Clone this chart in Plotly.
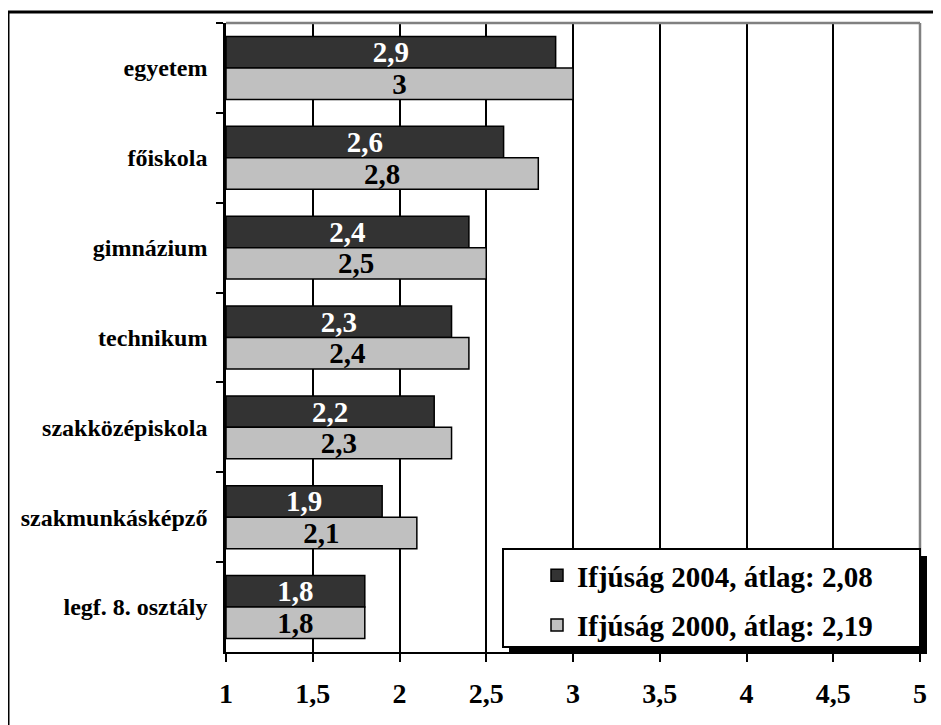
import plotly.graph_objects as go

categories = ["egyetem", "főiskola", "gimnázium", "technikum",
              "szakközépiskola", "szakmunkásképző", "legf. 8. osztály"]
values_2004 = [2.9, 2.6, 2.4, 2.3, 2.2, 1.9, 1.8]
values_2000 = [3.0, 2.8, 2.5, 2.4, 2.3, 2.1, 1.8]
name_2004 = "Ifjúság 2004, átlag: 2,08"
name_2000 = "Ifjúság 2000, átlag: 2,19"
tick_vals = [1, 1.5, 2, 2.5, 3, 3.5, 4, 4.5, 5]
tick_text = ["1", "1,5", "2", "2,5", "3", "3,5", "4", "4,5", "5"]
axis_start = 1

# page body has an 8px margin; figure sized to fit the window
OFF = 8
W, H = 933, 717
L, T = 226 - OFF, 23 - OFF
R = W - (920 - OFF)
B = H - (652 - OFF)
PW, PH = W - L - R, H - T - B


def px(x):  # screenshot x -> paper
    return (x - OFF - L) / PW


def py(y):  # screenshot y -> paper
    return (H - B - (y - OFF)) / PH


def fmt(v):
    return ("%g" % v).replace(".", ",")


FONT = "Liberation Serif"


def bar(vals, name, group, color, tcolor):
    return go.Bar(
        y=categories, x=[v - axis_start for v in vals], base=axis_start,
        orientation="h", name=name, legendgroup=group,
        customdata=vals, hovertemplate="%{y}: %{customdata}<extra></extra>",
        marker=dict(color=color, line=dict(color="black", width=1.5)),
        text=[fmt(v) for v in vals], textposition="inside", textangle=0,
        insidetextanchor="middle", constraintext="none",
        textfont=dict(color=tcolor, size=29, family=FONT, weight="bold"),
    )


fig = go.Figure()
fig.add_trace(bar(values_2004, name_2004, "a", "#333333", "white"))
fig.add_trace(bar(values_2000, name_2000, "b", "#c0c0c0", "black"))

shapes = [
    dict(type="line", xref="paper", yref="paper", x0=0, x1=1, y0=1, y1=1,
         line=dict(color="#808080", width=2.5), layer="above"),
    dict(type="line", xref="paper", yref="paper", x0=1, x1=1, y0=0, y1=1,
         line=dict(color="#808080", width=2.5), layer="above"),
    dict(type="rect", xref="paper", yref="paper",
         x0=px(509), x1=px(927), y0=py(654), y1=py(556),
         fillcolor="black", line=dict(width=0), layer="above"),
    dict(type="rect", xref="paper", yref="paper",
         x0=px(503), x1=px(920), y0=py(647), y1=py(549),
         fillcolor="white", line=dict(color="black", width=2), layer="above"),
    dict(type="line", xref="paper", yref="paper",
         x0=px(8), x1=px(8), y0=py(12), y1=py(740),
         line=dict(color="black", width=3), layer="above"),
    dict(type="line", xref="paper", yref="paper",
         x0=px(8), x1=px(960), y0=py(12), y1=py(12),
         line=dict(color="black", width=3), layer="above"),
]

fig.update_layout(
    width=W, height=H,
    margin=dict(l=L, r=R, t=T, b=B, pad=0, autoexpand=False),
    paper_bgcolor="white", plot_bgcolor="white",
    font=dict(family=FONT, color="black", weight="bold"),
    barmode="group", bargap=0.3, bargroupgap=0,
    showlegend=True,
    legend=dict(
        x=px(537), y=py(550), xanchor="left", yanchor="top",
        bgcolor="rgba(0,0,0,0)", borderwidth=0,
        font=dict(size=29, family=FONT, color="black", weight="bold"),
        traceorder="grouped", tracegroupgap=9,
    ),
    shapes=shapes,
    xaxis=dict(
        range=[1, 5], tickvals=tick_vals, ticktext=tick_text,
        showgrid=True, gridcolor="black", gridwidth=1.5,
        showline=True, linecolor="black", linewidth=2,
        ticks="outside", ticklen=8, tickwidth=2, tickcolor="black",
        tickfont=dict(size=28, family=FONT, weight="bold"),
        ticklabelstandoff=7, zeroline=False, automargin=False,
    ),
    yaxis=dict(
        categoryorder="array", categoryarray=categories,
        autorange="reversed",
        showline=True, linecolor="black", linewidth=2.5,
        ticks="outside", ticklen=7, tickwidth=2, tickcolor="black",
        tickson="boundaries", showgrid=False,
        tickfont=dict(size=24, family=FONT, weight="bold"),
        ticklabelstandoff=11, automargin=False,
    ),
)

fig.write_html("out.html")
